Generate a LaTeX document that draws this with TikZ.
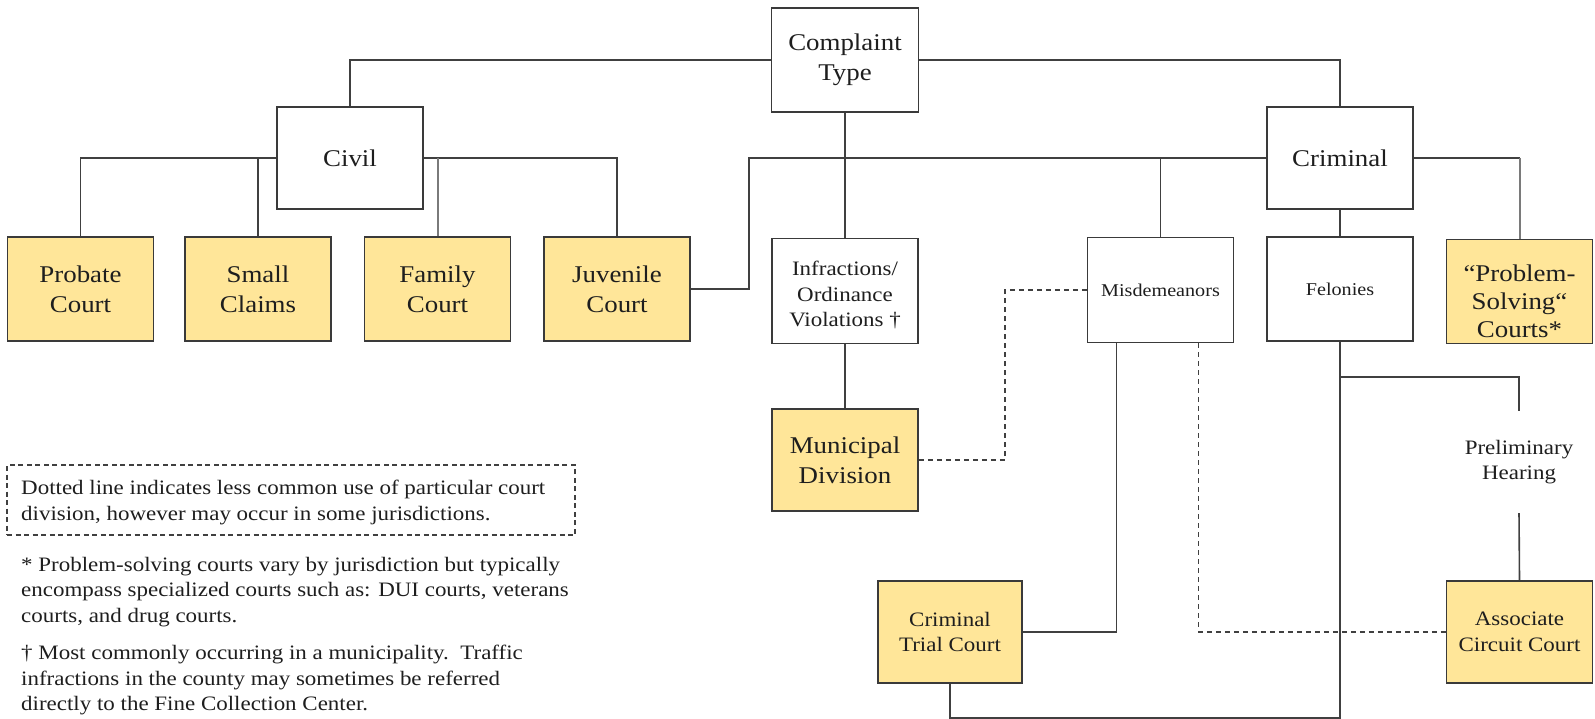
\documentclass[tikz,border=0pt]{standalone}
\usepackage{fontspec}
\setmainfont{Liberation Serif}[FakeStretch=1.12]
\usetikzlibrary{calc}

\definecolor{gold}{HTML}{FFE699}
\definecolor{edge}{HTML}{3A3A3A}
\definecolor{wire}{HTML}{404040}
\definecolor{wirelight}{HTML}{7A7A7A}
\definecolor{ink}{HTML}{1E1E1E}

\tikzset{
  box/.style={draw=edge, line width=1.6pt, fill=white, inner sep=0pt,
    align=center, text=ink, minimum width=146pt, minimum height=104pt},
  court/.style={box, fill=gold},
  bigtext/.style={font=\fontsize{24}{30}\selectfont},
  midtext/.style={font=\fontsize{20.5}{25.5}\selectfont},
  smalltext/.style={font=\fontsize{18}{22}\selectfont},
  conn/.style={draw=wire, line width=1.6pt},
  connlight/.style={draw=wirelight, line width=2pt},
  dconn/.style={draw=wire, line width=1.4pt, dash pattern=on 5pt off 4pt},
  notetext/.style={align=left, text=ink, inner sep=0pt,
    font=\fontsize{20.5}{25.5}\selectfont},
}

\begin{document}
\begin{tikzpicture}[x=1pt, y=-1pt]
\useasboundingbox (0,0) rectangle (1595,719);

% top level
\node[box, bigtext, minimum width=147pt] (ct) at (845,60) {Complaint\\Type};
\node[box, bigtext, minimum height=102pt] (civil) at (350,158) {Civil};
\node[box, bigtext, minimum height=102pt] (crim) at (1340,158) {Criminal};

% civil courts
\node[court, bigtext] (probate) at (80.5,289) {Probate\\Court};
\node[court, bigtext] (small) at (258,289) {Small\\Claims};
\node[court, bigtext] (family) at (437.5,289) {Family\\Court};
\node[court, bigtext] (juv) at (617,289) {Juvenile\\Court};

% criminal categories
\node[box, minimum height=105pt,
      label={[midtext, align=center, text=ink, yshift=-4pt]center:{Infractions/\\Ordinance\\Violations †}}]
      (infr) at (845,291) {};
\node[box, smalltext, minimum height=105pt] (misd) at (1160.5,290) {Misdemeanors};
\node[box, smalltext] (fel) at (1340,289) {Felonies};
\node[court,
      label={[font=\fontsize{24}{28}\selectfont, align=center, text=ink, yshift=-10pt]center:{“Problem-\\Solving“\\Courts*}}]
      (prob) at (1519.5,291.5) {};

% lower courts
\node[court, bigtext, minimum height=102pt] (muni) at (845,460) {Municipal\\Division};
\node[court, midtext, minimum width=144pt, minimum height=102pt] (trial) at (950,632) {Criminal\\Trial Court};
\node[court, midtext, minimum height=102pt] (assoc) at (1519.5,632) {Associate\\Circuit Court};
\node[midtext, text=ink, inner sep=0pt, minimum height=102pt, align=center] (prelim) at (1519,462) {Preliminary\\Hearing};

% connectors from the top
\draw[conn] (ct.west) -| (civil.north);
\draw[conn] (ct.east) -| (crim.north);
\draw[conn] (ct.south) -- (infr.north);

% civil branch
\draw[conn] (civil.west) -| (probate.north);
\draw[conn] (small.north) |- (civil.west);
\draw[conn] (civil.east) -| (juv.north);
\draw[connlight] (family.north) -- (family.north |- civil.east);

% criminal branch
\draw[conn] (crim.west) -| ([xshift=58pt]juv.east) -- (juv.east);
\draw[conn] (misd.north) |- (crim.west);
\draw[conn] (crim.east) -- (crim.east -| prob.north);
\draw[connlight] (crim.east -| prob.north) -- (prob.north);
\draw[conn] (crim.south) -- (fel.north);
\draw[conn] (infr.south) -- (muni.north);

% misdemeanors
\draw[dconn] (muni.east) -- ++(86,0) |- (misd.west);
\draw[conn] ([xshift=-44pt]misd.south) |- (trial.east);
\draw[dconn] ([xshift=38pt]misd.south) |- (assoc.west);

% felonies
\coordinate (felbottom) at ([yshift=-376pt]fel.south);
\coordinate (felhear) at ([yshift=-35pt]fel.south);
\draw[conn] (fel.south) -- (felbottom) -| (trial.south);
\draw[conn] (felhear) -| (prelim.north);
\draw[conn] (prelim.south) -- (assoc.north);

% notes
\node[draw=wire, line width=1.2pt, dash pattern=on 5pt off 3.5pt,
      minimum width=568pt, minimum height=70pt, inner sep=0pt] (legend) at (291,500) {};
\node[notetext, anchor=west] (legendtext) at (21,502.5)
  {Dotted line indicates less common use of particular court\\division, however may occur in some jurisdictions.};
\node[notetext, anchor=north west] (note1) at (21,557)
  {* Problem-solving courts vary by jurisdiction but typically\\encompass specialized courts such as: DUI courts, veterans\\courts, and drug courts.};
\node[notetext, anchor=north west] (note2) at (21,645)
  {† Most commonly occurring in a municipality.\ \ Traffic\\infractions in the county may sometimes be referred\\directly to the Fine Collection Center.};
\end{tikzpicture}
\end{document}
